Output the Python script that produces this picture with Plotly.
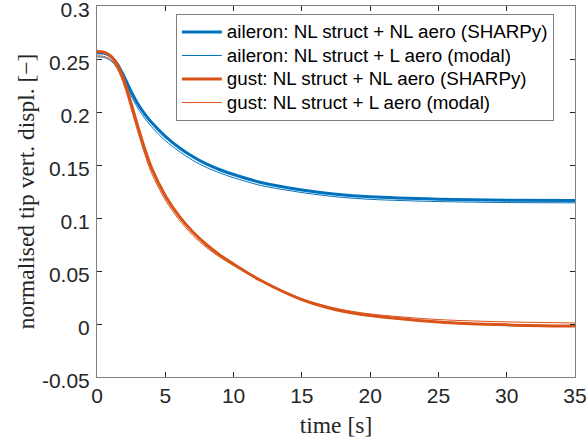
import plotly.graph_objects as go

# time samples [s]
t = [0, 0.5, 1, 1.5, 2, 2.5, 3, 3.5, 4, 5, 6, 7, 8, 9, 10, 12, 15, 17.5, 20, 25, 30, 35]

ail_nl = [0.256, 0.2555, 0.2525, 0.245, 0.233, 0.2195, 0.2075, 0.198, 0.190, 0.177, 0.1665, 0.158, 0.151, 0.1455, 0.141, 0.1335, 0.1265, 0.1225, 0.1200, 0.1178, 0.1168, 0.1165]
ail_l = [0.252, 0.2515, 0.2485, 0.241, 0.229, 0.2155, 0.2035, 0.194, 0.186, 0.173, 0.163, 0.1545, 0.1478, 0.1425, 0.138, 0.1307, 0.124, 0.120, 0.1176, 0.1155, 0.1146, 0.1143]
gust_nl = [0.257, 0.2565, 0.253, 0.244, 0.229, 0.208, 0.186, 0.165, 0.147, 0.121, 0.102, 0.087, 0.075, 0.065, 0.0565, 0.041, 0.023, 0.0135, 0.008, 0.002, -0.0008, -0.002]
gust_l = [0.253, 0.2525, 0.2495, 0.2405, 0.2245, 0.203, 0.181, 0.160, 0.142, 0.117, 0.0985, 0.0838, 0.0723, 0.063, 0.0552, 0.041, 0.0238, 0.0148, 0.0095, 0.0042, 0.002, 0.001]

names = ["aileron: NL struct + NL aero (SHARPy)",
         "aileron: NL struct + L aero (modal)",
         "gust: NL struct + NL aero (SHARPy)",
         "gust: NL struct + L aero (modal)"]
series = [ail_nl, ail_l, gust_nl, gust_l]
colors = ["#0072BD", "#0072BD", "#D95319", "#D95319"]
widths = [3, 1, 3, 1]

y_ticks = [-0.05, 0, 0.05, 0.1, 0.15, 0.2, 0.25, 0.3]
y_labels = ["-0.05", "0", "0.05", "0.1", "0.15", "0.2", "0.25", "0.3"]
x_ticks = [0, 5, 10, 15, 20, 25, 30, 35]
x_labels = ["0", "5", "10", "15", "20", "25", "30", "35"]

fig = go.Figure()
for n, s, c, w in zip(names, series, colors, widths):
    fig.add_trace(go.Scatter(x=t, y=s, mode="lines",
                             name='<span style="font-size:18.8px">' + n + '</span>',
                             line=dict(color=c, width=w, shape="spline", smoothing=0.8)))

tick_font = dict(family="Liberation Sans, Arial, sans-serif", size=21, color="#262626")
title_font = dict(family="Liberation Serif, serif", size=23.5, color="#262626")

fig.update_layout(
    width=587, height=444,
    margin=dict(l=97, r=12, t=6, b=67, autoexpand=False),
    paper_bgcolor="white", plot_bgcolor="white",
    legend=dict(x=0.165, y=0.978, xanchor="left", yanchor="top",
                bordercolor="#808080", borderwidth=1, bgcolor="white",
                font=dict(family="Liberation Sans, Arial", size=15.8, color="black"),
                itemwidth=40, tracegroupgap=0),
    showlegend=True,
)
fig.update_xaxes(range=[0, 35], tickmode="array", tickvals=x_ticks, ticktext=x_labels,
                 showline=True, mirror="ticks", linecolor="#808080", linewidth=1,
                 ticks="inside", ticklen=5, tickcolor="#262626", showgrid=False, zeroline=False,
                 tickfont=tick_font, ticklabeloverflow="allow", automargin=False,
                 title=dict(text="time [s]", font=title_font, standoff=10))
fig.update_yaxes(range=[-0.05, 0.3], tickmode="array", tickvals=y_ticks, ticktext=y_labels,
                 showline=True, mirror="ticks", linecolor="#808080", linewidth=1,
                 ticks="inside", ticklen=5, tickcolor="#262626", showgrid=False, zeroline=False,
                 tickfont=tick_font, ticklabeloverflow="allow", automargin=False,
                 ticklabelshift=4, ticklabelstandoff=2,
                 title=dict(text="normalised tip vert. displ. [−]", font=title_font, standoff=0))

fig.write_html("out.html")
